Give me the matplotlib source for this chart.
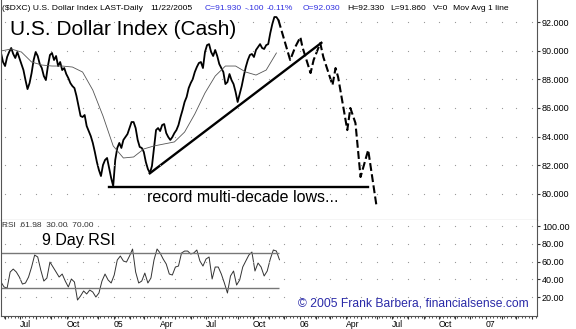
import matplotlib
matplotlib.use('Agg')
import matplotlib.pyplot as plt
import matplotlib.dates as mdates
from matplotlib.ticker import FuncFormatter, FormatStrFormatter
import numpy as np
import pandas as pd

plt.rcParams['font.family'] = ['Liberation Sans', 'DejaVu Sans']

# closes, one every 4 days from 2004-05-25
price_start = '2004-05-25'
price_close = [
    89.84, 89.21, 88.93, 89.56, 89.91, 90.19, 89.77, 89.49, 89.91, 89.49,
    89.07, 88.65, 87.95, 87.32, 87.74, 88.44, 89.35, 89.91, 89.63, 89.07,
    88.79, 88.23, 87.95, 88.93, 89.70, 89.84, 89.35, 89.63, 88.93, 89.21,
    88.65, 88.79, 88.37, 88.09, 87.74, 87.53, 87.39, 86.84, 86.14, 85.44,
    85.37, 85.51, 84.74, 84.39, 84.04, 83.56, 82.93, 82.23, 81.67, 81.25,
    82.02, 82.37, 82.51, 81.81, 81.11, 80.55, 82.37, 83.21, 83.56, 83.21,
    83.77, 83.97, 84.18, 84.60, 85.02, 85.02, 84.60, 83.77, 83.28, 83.21,
    82.93, 82.23, 81.74, 81.46, 81.95, 83.21, 84.46, 84.60, 84.39, 84.81,
    84.88, 84.25, 83.97, 83.77, 83.97, 84.25, 84.46, 84.81, 85.37, 85.86,
    86.42, 86.77, 87.39, 87.74, 88.02, 88.51, 88.86, 89.14, 89.21, 88.79,
    89.91, 90.39, 90.46, 89.91, 89.63, 90.05, 89.63, 89.07, 88.79, 88.51,
    87.67, 87.81, 88.37, 87.95, 87.67, 87.12, 86.42, 86.98, 87.53, 88.23,
    88.86, 89.35, 89.70, 89.77, 89.56, 90.05, 90.26, 90.46, 90.19, 90.12,
    90.39, 90.46, 91.23, 91.86, 92.35, 92.35, 92.14,
]

# moving average, one every 20 days
ma_values = [
    89.98, 90.12, 89.91, 89.21, 89.00, 88.93, 88.93, 88.86, 88.51, 87.25,
    85.44, 83.35, 82.51, 82.58, 83.14, 83.35, 83.49, 83.63, 84.32, 85.58,
    87.05, 88.23, 88.93, 88.93, 88.51, 88.30, 88.65, 89.84,
]

# hand-drawn projection (dashed)
proj_dates = ['2005-11-20', '2005-12-13', '2005-12-23', '2006-01-02', '2006-01-06',
              '2006-01-22', '2006-01-28', '2006-02-10', '2006-02-16', '2006-03-06',
              '2006-03-12', '2006-03-17', '2006-04-04', '2006-04-10', '2006-04-20',
              '2006-04-30', '2006-05-15', '2006-05-31']
proj_values = [92.14, 89.35, 90.26, 90.95, 90.26, 88.44, 89.35, 90.53, 89.56, 87.60,
               88.79, 88.16, 84.46, 86.00, 84.95, 81.18, 83.07, 79.23]

trend_dates = ['2005-03-11', '2006-02-14']
trend_values = [81.39, 90.60]
lows_dates = ['2004-12-22', '2006-05-15']
lows_level = 80.5

# 9 day RSI, one every 6 days
rsi_values = [
    36.9, 31.3, 30.1, 48.2, 51.5, 48.2, 42.5, 34.6, 35.8, 42.5,
    53.8, 67.3, 65.1, 50.4, 38.0, 41.4, 59.4, 53.8, 48.2, 42.5,
    45.9, 38.0, 31.3, 40.3, 36.9, 16.6, 21.2, 26.8, 23.4, 27.9,
    25.6, 20.0, 24.5, 38.0, 45.9, 39.2, 35.8, 44.8, 61.7, 66.2,
    60.6, 59.4, 66.2, 74.1, 48.2, 35.8, 38.0, 47.0, 35.8, 41.4,
    61.7, 74.1, 69.6, 62.8, 57.2, 45.9, 44.8, 53.8, 54.9, 69.6,
    71.8, 71.8, 68.5, 69.6, 73.0, 60.6, 54.9, 62.8, 65.1, 40.3,
    53.8, 53.8, 45.9, 35.8, 24.5, 43.7, 49.3, 33.5, 39.2, 53.8,
    60.6, 67.3, 70.7, 49.3, 58.3, 53.8, 43.7, 49.3, 62.8, 73.0,
    71.8, 62.0,
]
rsi_bands = [30, 70]

price_ticks = [80, 82, 84, 86, 88, 90, 92]
rsi_ticks = [20, 40, 60, 80, 100]

price_dates = pd.date_range(price_start, periods=len(price_close), freq='4D')
ma_dates = pd.date_range(price_start, periods=len(ma_values), freq='20D')
rsi_dates = pd.date_range(price_start, periods=len(rsi_values), freq='6D')
x_min, x_max = pd.Timestamp('2004-05-25'), pd.Timestamp('2007-04-11')
last_label = pd.Timestamp('2007-02-01')

W, H = 576, 329
fig = plt.figure(figsize=(W / 100, H / 100), dpi=100)
ax = fig.add_axes([1 / W, 1 - 220 / H, 536 / W, 220 / H])
ax2 = fig.add_axes([1 / W, 1 - 316 / H, 536 / W, 96 / H], sharex=ax)

# price panel
ax.plot(price_dates, price_close, color='black', lw=1.3)
ax.plot(ma_dates, ma_values, color='#555555', lw=0.6)
ax.plot(pd.to_datetime(proj_dates), proj_values, color='black', lw=1.5, dashes=(3.8, 1.6))
ax.plot(pd.to_datetime(trend_dates), trend_values, color='black', lw=1.7, solid_capstyle='butt')
ax.plot(pd.to_datetime(lows_dates), [lows_level, lows_level], color='black', lw=1.7)

months = pd.date_range('2004-06-01', '2007-04-01', freq='MS')
mx, my = np.meshgrid(mdates.date2num(months), price_ticks)
ax.plot(mx.ravel(), my.ravel(), ls='none', marker='s', ms=0.8, mew=0, color='#9a9a9a')

ax.set_xlim(x_min, x_max)
ax.set_ylim(78.18, 93.54)
ax.yaxis.tick_right()
ax.set_yticks(price_ticks)
ax.yaxis.set_major_formatter(FormatStrFormatter('%.3f'))
ax.tick_params(axis='y', labelsize=6.5, length=2.5, pad=1, direction='out', colors='#333333', labelcolor='black')
ax.tick_params(axis='x', bottom=False, labelbottom=False)
ax.spines['top'].set_visible(False)
for s in ['left', 'right', 'bottom']:
    ax.spines[s].set_color('#555555')
    ax.spines[s].set_linewidth(0.8)

fig.text(10 / W, 1 - 35 / H, 'U.S. Dollar Index (Cash)', fontsize=15, va='baseline')
fig.text(147 / W, 1 - 202 / H, 'record multi-decade lows...', fontsize=11.5, va='baseline')

# header line
hdr = [(2, '($DXC) U.S. Dollar Index LAST-Daily', 'black'),
       (150, '11/22/2005', 'black'),
       (205, 'C=91.930', '#3030e0'),
       (245, '-.100', '#3030e0'),
       (267, '-0.11%', '#3030e0'),
       (303, 'O=92.030', '#3030e0'),
       (347, 'H=92.330', 'black'),
       (390, 'L=91.860', 'black'),
       (433, 'V=0', 'black'),
       (453, 'Mov Avg 1 line', 'black')]
for px, s, c in hdr:
    fig.text(px / W, 1 - 10 / H, s, fontsize=6.1, color=c, va='baseline')

# RSI panel
ax2.plot(rsi_dates, rsi_values, color='#333333', lw=0.7)
ax2.hlines(rsi_bands, x_min, rsi_dates[-1], color='#777777', lw=1.0)
rx, ry = np.meshgrid(mdates.date2num(months), rsi_ticks)
ax2.plot(rx.ravel(), ry.ravel(), ls='none', marker='s', ms=0.8, mew=0, color='#9a9a9a')

ax2.set_ylim(-1.4, 106.8)
ax2.yaxis.tick_right()
ax2.set_yticks(rsi_ticks)
ax2.yaxis.set_major_formatter(FormatStrFormatter('%.2f'))
ax2.tick_params(axis='y', labelsize=6.5, length=2.5, pad=1, direction='out', colors='#333333', labelcolor='black')


def month_label(x, pos):
    d = mdates.num2date(x).replace(tzinfo=None)
    if d.month not in (1, 4, 7, 10) or d > last_label:
        return ''
    if d.month == 1:
        return d.strftime('%y')
    return d.strftime('%b')


ax2.xaxis.set_major_locator(mdates.MonthLocator())
ax2.xaxis.set_major_formatter(FuncFormatter(month_label))
ax2.xaxis.set_minor_locator(mdates.WeekdayLocator(byweekday=mdates.MO))
ax2.tick_params(axis='x', which='major', labelsize=6.2, length=2.5, pad=0.3, colors='#333333', labelcolor='black')
ax2.tick_params(axis='x', which='minor', length=1.5, colors='#333333')
for lbl in ax2.get_xticklabels():
    lbl.set_horizontalalignment('left')
ax2.spines['top'].set_visible(False)
for s in ['left', 'right', 'bottom']:
    ax2.spines[s].set_color('#555555')
    ax2.spines[s].set_linewidth(0.8)

fig.text(2 / W, 1 - 227 / H, 'RSI  61.98  30.00  70.00', fontsize=6, color='#333333', va='baseline')
fig.text(42 / W, 1 - 245 / H, '9 Day RSI', fontsize=11.5, va='baseline')
fig.text(298 / W, 1 - 307 / H, '\u00a9 2005 Frank Barbera, financialsense.com',
         fontsize=8.7, color='#2a2aa8', va='baseline')

fig.savefig('out.png', dpi=100)
